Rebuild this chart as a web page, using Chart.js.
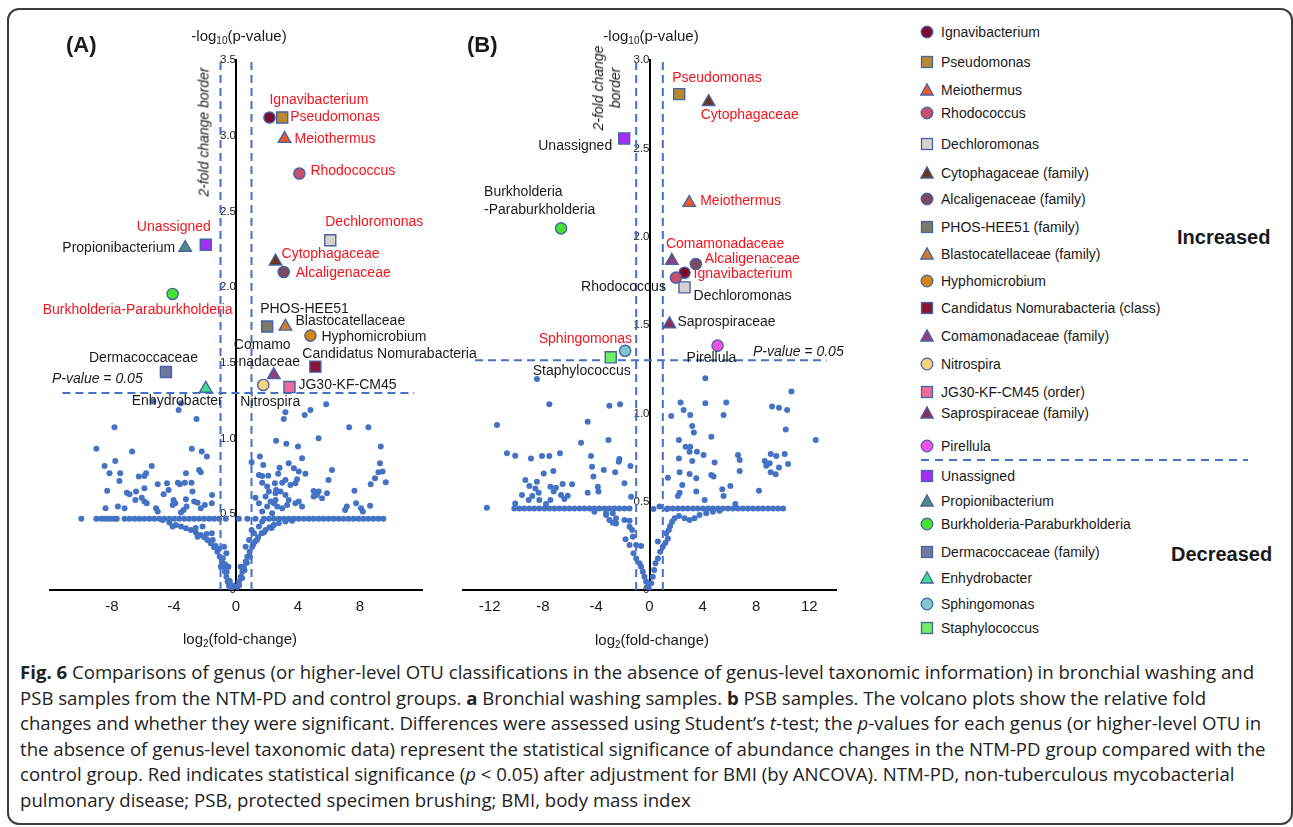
<!DOCTYPE html>
<html>
<head>
<meta charset="utf-8">
<script src="https://cdn.jsdelivr.net/npm/chart.js@4.4.1/dist/chart.umd.min.js"></script>
<style>
  body { margin: 0; width: 1293px; height: 827px; background: #fff; position: relative; overflow: hidden;
         font-family: "Liberation Sans", Arial, sans-serif; color: #1a1a1a; }
  .frame { position: absolute; left: 7px; top: 8px; width: 1282px; height: 813px; border: 2px solid #3c3c3c; border-radius: 12px; }
  canvas { position: absolute; }
  #volcanoA { left: 0; top: 40px; }
  #volcanoB { left: 440px; top: 40px; }
  .t { position: absolute; white-space: nowrap; z-index: 2; }
  .mid { transform: translate(-50%, -50%); }
  .vmid { transform: translateY(-50%); }
  .panel { font-weight: bold; font-size: 22px; }
  .ttl { font-size: 15px; }
  .ttl sub { font-size: 10px; vertical-align: -3px; line-height: 0; }
  .it { font-style: italic; font-size: 14px; }
  .rot { transform: translate(-50%, -50%) rotate(-90deg); text-align: center; line-height: 17px; }
  .leg { position: absolute; left: 919px; height: 16px; font-size: 14px; white-space: nowrap; transform: translateY(-50%); display: flex; align-items: center; }
  .leg svg { width: 16px; height: 16px; margin-right: 6px; }
  .grp { position: absolute; font-weight: bold; font-size: 20px; transform: translateY(-50%); }
  .caption { position: absolute; left: 20px; top: 659px; font-family: "Open Sans", "Noto Sans", sans-serif; font-size: 18.6px;
             line-height: 25.6px; color: #222; white-space: nowrap; }
</style>
</head>
<body>
<div class="frame"></div>
<canvas id="volcanoA" width="480" height="610"></canvas>
<canvas id="volcanoB" width="460" height="610"></canvas>

<div class="t panel vmid" style="left:66px;top:45px">(A)</div>
<div class="t panel vmid" style="left:467px;top:45px">(B)</div>
<div class="t ttl mid" style="left:239px;top:35px">-log<sub>10</sub>(p-value)</div>
<div class="t ttl mid" style="left:651px;top:35px">-log<sub>10</sub>(p-value)</div>
<div class="t ttl mid" style="left:240px;top:638px">log<sub>2</sub>(fold-change)</div>
<div class="t ttl mid" style="left:652px;top:639px">log<sub>2</sub>(fold-change)</div>
<div class="t it rot" style="left:204px;top:132px">2-fold change border</div>
<div class="t it rot" style="left:607px;top:88px">2-fold change<br>border</div>
<div class="t it vmid" style="left:52px;top:378px">P-value = 0.05</div>
<div class="t it vmid" style="left:753px;top:351px">P-value = 0.05</div>

<div id="legend"></div>
<div class="grp" style="left:1177px;top:237px">Increased</div>
<div class="grp" style="left:1171px;top:554px">Decreased</div>

<div class="caption">
<b>Fig. 6</b> Comparisons of genus (or higher-level OTU classifications in the absence of genus-level taxonomic information) in bronchial washing and<br>
PSB samples from the NTM-PD and control groups. <b>a</b> Bronchial washing samples. <b>b</b> PSB samples. The volcano plots show the relative fold<br>
changes and whether they were significant. Differences were assessed using Student’s <i>t</i>-test; the <i>p</i>-values for each genus (or higher-level OTU in<br>
the absence of genus-level taxonomic data) represent the statistical significance of abundance changes in the NTM-PD group compared with the<br>
control group. Red indicates statistical significance (<i>p</i> &lt; 0.05) after adjustment for BMI (by ANCOVA). NTM-PD, non-tuberculous mycobacterial<br>
pulmonary disease; PSB, protected specimen brushing; BMI, body mass index
</div>

<script>
(function () {
    'use strict';

    // ---- data: log2(fold-change), -log10(p) ----
    var foldBorder = 1;                 // log2(2)
    var pLine = -Math.log10(0.05);

    var speciesA = ['Ignavibacterium', 'Pseudomonas', 'Meiothermus', 'Rhodococcus', 'Dechloromonas',
        'Cytophagaceae', 'Alcaligenaceae', 'PHOS-HEE51', 'Blastocatellaceae', 'Hyphomicrobium',
        'Candidatus Nomurabacteria', 'Comamonadaceae', 'Nitrospira', 'JG30-KF-CM45',
        'Unassigned', 'Propionibacterium', 'Burkholderia-Paraburkholderia', 'Dermacoccaceae', 'Enhydrobacter'];
    var fcA = [2.16, 2.98, 3.13, 4.09, 6.08, 2.55, 3.08, 2.01, 3.19, 4.80, 5.12, 2.44, 1.76, 3.45, -1.95, -3.28, -4.09, -4.52, -1.95];
    var logpA = [3.12, 3.12, 2.98, 2.75, 2.31, 2.17, 2.10, 1.74, 1.74, 1.68, 1.475, 1.42, 1.354, 1.34, 2.28, 2.26, 1.955, 1.44, 1.33];

    var speciesB = ['Pseudomonas', 'Cytophagaceae', 'Unassigned', 'Meiothermus', 'Burkholderia-Paraburkholderia',
        'Comamonadaceae', 'Alcaligenaceae', 'Rhodococcus', 'Ignavibacterium', 'Dechloromonas',
        'Saprospiraceae', 'Pirellula', 'Sphingomonas', 'Staphylococcus'];
    var fcB = [2.23, 4.44, -1.90, 2.98, -6.64, 1.68, 3.48, 1.98, 2.63, 2.63, 1.50, 5.11, -1.83, -2.91];
    var logpB = [2.807, 2.763, 2.556, 2.192, 2.047, 1.864, 1.845, 1.768, 1.796, 1.713, 1.505, 1.383, 1.354, 1.317];

    // other OTUs, panel A
    var scatterA = [[-3.55, 1.233], [-5.33, 1.244], [-3.70, 1.189], [-2.55, 1.130], [-7.84, 1.075], [-9.01, 0.932],
        [-7.79, 0.852], [-6.70, 0.914], [-2.85, 0.932], [-2.21, 0.914], [-1.88, 0.881], [-8.48, 0.819], [-8.16, 0.771],
        [-7.47, 0.771], [-7.52, 0.720], [-8.31, 0.656], [-6.27, 0.749], [-5.80, 0.771], [-5.91, 0.753], [-5.44, 0.819],
        [-6.45, 0.650], [-5.91, 0.672], [-7.04, 0.643], [-6.87, 0.632], [-6.49, 0.595], [-6.08, 0.610], [-5.91, 0.584],
        [-5.76, 0.573], [-5.05, 0.698], [-4.45, 0.705], [-4.35, 0.661], [-4.67, 0.632], [-3.75, 0.709], [-3.62, 0.698],
        [-3.30, 0.709], [-2.87, 0.709], [-3.23, 0.771], [-2.38, 0.793], [-2.27, 0.778], [-2.81, 0.650], [-1.54, 0.628],
        [-3.92, 0.573], [-4.03, 0.595], [-4.09, 0.562], [-3.38, 0.529], [-3.19, 0.551], [-2.70, 0.584], [-2.48, 0.577],
        [-2.27, 0.540], [-2.01, 0.562], [-1.56, 0.573], [-8.42, 0.540], [-7.62, 0.551], [-7.19, 0.540], [-5.16, 0.540],
        [-5.05, 0.518], [-3.23, 0.599], [-3.55, 0.511],
        [5.82, 1.227], [4.80, 1.189], [4.43, 1.156], [3.19, 1.174], [3.08, 1.130], [7.30, 1.075], [8.54, 1.075],
        [5.33, 1.002], [2.59, 0.985], [3.25, 0.965], [4.00, 0.947], [4.26, 0.870], [9.34, 0.947], [1.01, 0.844],
        [1.54, 0.881], [1.76, 0.826], [1.48, 0.760], [1.69, 0.753], [2.08, 0.755], [2.72, 0.767], [2.81, 0.808],
        [3.40, 0.837], [3.73, 0.804], [4.05, 0.782], [4.48, 0.767], [3.19, 0.727], [2.98, 0.709], [3.51, 0.694],
        [3.83, 0.705], [3.94, 0.731], [2.51, 0.705], [2.59, 0.661], [2.55, 0.639], [2.87, 0.650], [3.19, 0.628],
        [2.01, 0.683], [2.12, 0.650], [1.26, 0.610], [1.91, 0.617], [2.23, 0.584], [2.44, 0.573], [2.66, 0.551],
        [2.98, 0.540], [3.40, 0.595], [3.83, 0.573], [4.05, 0.584], [4.26, 0.551], [3.30, 0.562], [5.01, 0.654],
        [5.33, 0.650], [5.55, 0.606], [5.87, 0.639], [5.01, 0.617], [5.22, 0.628], [6.19, 0.793], [5.97, 0.727],
        [7.64, 0.656], [7.15, 0.551], [7.75, 0.573], [8.07, 0.540], [8.18, 0.518], [8.65, 0.557], [8.69, 0.698],
        [8.97, 0.738], [9.19, 0.778], [9.46, 0.782], [9.29, 0.837], [9.66, 0.711], [7.04, 0.529], [1.69, 0.709],
        [1.48, 0.573], [1.69, 0.518], [2.33, 0.507], [2.01, 0.551], [2.55, 0.595]];
    var plateauLevelA = 0.47;
    var plateauA = [-9.98, -9.01, -8.69, -8.48, -8.27, -8.05, -7.84, -7.69, -7.19, -6.87, -6.55, -6.23, -5.91, -5.59,
        -5.27, -4.95, -4.63, -4.30, -3.98, -3.66, -3.34, -3.02, -2.70, -2.38, -2.06, -1.73, -1.41, -1.09, -0.66,
        0.19, 0.73, 1.26, 1.80, 2.12, 2.44, 2.76, 3.08, 3.40, 3.73, 4.05, 4.37, 4.69, 5.01, 5.33, 5.65, 5.97, 6.30,
        6.62, 6.94, 7.26, 7.58, 7.90, 8.22, 8.54, 8.86, 9.19, 9.51];
    var funnelA = [[-4.73, 0.463], [-4.30, 0.445], [-3.88, 0.430], [-3.55, 0.419], [-3.23, 0.407], [-2.91, 0.396],
        [-2.59, 0.379], [-2.27, 0.363], [-2.06, 0.348], [-1.84, 0.330], [-1.63, 0.308], [-1.41, 0.282], [-1.20, 0.253],
        [-1.05, 0.220], [-0.92, 0.187], [-0.81, 0.154], [-0.71, 0.121], [-0.62, 0.088], [-0.54, 0.055], [-0.45, 0.026],
        [-0.30, 0.009], [-2.16, 0.419], [-2.48, 0.352], [-1.56, 0.374], [-1.31, 0.291], [-0.77, 0.286], [-0.62, 0.242],
        [-0.49, 0.154], [-4.09, 0.419], [-0.98, 0.154], [-0.20, 0.03], [-0.40, 0.06], [-0.60, 0.12], [-0.70, 0.17],
        [-0.85, 0.21], [-1.10, 0.27], [-1.50, 0.33], [-1.90, 0.37], [-2.60, 0.41],
        [0.09, 0.022], [0.19, 0.055], [0.30, 0.088], [0.41, 0.121], [0.51, 0.154], [0.62, 0.187], [0.73, 0.220],
        [0.88, 0.253], [1.05, 0.286], [1.22, 0.319], [1.43, 0.348], [1.65, 0.374], [1.91, 0.396], [2.16, 0.414],
        [2.44, 0.430], [2.76, 0.441], [3.19, 0.452], [3.62, 0.458], [0.30, 0.154], [0.84, 0.330], [1.16, 0.374],
        [1.48, 0.419], [1.69, 0.452], [0.62, 0.286], [1.01, 0.396], [0.20, 0.03], [0.40, 0.08], [0.55, 0.13],
        [0.70, 0.18], [0.90, 0.22], [1.10, 0.30], [1.35, 0.33], [1.80, 0.38], [2.30, 0.41]];

    // other OTUs, panel B
    var scatterB = [[-8.45, 1.194], [-7.52, 1.051], [-11.45, 0.934], [-3.01, 1.043], [-2.21, 1.051], [-4.64, 0.953],
        [-3.08, 0.849], [-5.14, 0.834], [-10.70, 0.774], [-10.08, 0.760], [-8.90, 0.745], [-8.07, 0.758], [-7.52, 0.758],
        [-6.72, 0.774], [-4.39, 0.758], [-2.26, 0.742], [-2.31, 0.726], [-4.31, 0.698], [-3.43, 0.679], [-2.58, 0.666],
        [-4.21, 0.642], [-1.43, 0.702], [-7.94, 0.660], [-7.22, 0.674], [-9.32, 0.623], [-8.45, 0.613], [-9.02, 0.589],
        [-8.57, 0.575], [-8.32, 0.551], [-9.57, 0.538], [-8.80, 0.532], [-7.44, 0.585], [-7.02, 0.579], [-7.19, 0.557],
        [-6.52, 0.600], [-5.81, 0.598], [-6.64, 0.538], [-6.14, 0.534], [-6.39, 0.515], [-7.44, 0.509], [-7.77, 0.487],
        [-9.07, 0.509], [-8.27, 0.509], [-4.64, 0.551], [-3.88, 0.585], [-3.83, 0.557], [-1.88, 0.604], [-1.38, 0.528],
        [-12.21, 0.466],
        [4.19, 1.198], [10.65, 1.123], [2.33, 1.062], [4.19, 1.057], [5.76, 1.062], [9.20, 1.038], [9.72, 1.032],
        [10.33, 1.019], [1.63, 0.985], [2.56, 1.019], [3.06, 0.991], [5.56, 0.991], [3.21, 0.928], [3.33, 0.892],
        [10.23, 0.909], [12.48, 0.849], [4.64, 0.868], [2.21, 0.849], [2.71, 0.811], [3.06, 0.811], [3.01, 0.783],
        [3.56, 0.783], [4.06, 0.764], [2.21, 0.745], [3.21, 0.730], [4.89, 0.721], [6.64, 0.764], [6.77, 0.736],
        [6.77, 0.674], [9.10, 0.770], [9.52, 0.758], [10.15, 0.770], [8.65, 0.730], [8.77, 0.704], [9.02, 0.717],
        [10.40, 0.713], [9.72, 0.694], [9.10, 0.666], [9.47, 0.655], [1.38, 0.636], [2.26, 0.666], [3.01, 0.657],
        [2.46, 0.594], [4.64, 0.651], [4.81, 0.642], [3.51, 0.632], [6.07, 0.589], [5.46, 0.570], [8.22, 0.562],
        [2.26, 0.551], [2.13, 0.532], [3.51, 0.557], [4.14, 0.509], [5.56, 0.532], [6.44, 0.487], [0.75, 0.472],
        [0.30, 0.458], [1.30, 0.458]];
    var plateauLevelB = 0.462;
    var plateauB = [-10.15, -9.77, -9.40, -9.02, -8.65, -8.27, -7.89, -7.52, -7.14, -6.77, -6.39, -6.02, -5.64, -5.26,
        -4.89, -4.51, -4.14, -3.76, -3.38, -3.01, -2.63, -2.26, -1.88, -1.50,
        1.38, 1.75, 2.13, 2.51, 2.88, 3.26, 3.63, 4.01, 4.39, 4.76, 5.14, 5.51, 5.89, 6.27, 6.64, 7.02, 7.39, 7.77,
        8.15, 8.52, 8.90, 9.27, 9.65, 10.03];
    var funnelB = [[-3.26, 0.425], [-3.01, 0.396], [-2.76, 0.381], [-2.51, 0.377], [-2.51, 0.406], [-1.88, 0.396],
        [-1.50, 0.392], [-1.50, 0.358], [-1.30, 0.340], [-1.25, 0.302], [-1.80, 0.287], [-1.50, 0.255], [-1.00, 0.255],
        [-0.63, 0.249], [-1.20, 0.208], [-1.00, 0.179], [-0.75, 0.151], [-0.63, 0.132], [-0.50, 0.104], [-0.38, 0.075],
        [-0.25, 0.047], [-0.13, 0.019], [0, 0], [-4.14, 0.443], [-3.26, 0.434], [-2.76, 0.434], [-10.08, 0.49],
        [0.13, 0.038], [0.25, 0.075], [0.35, 0.113], [0.45, 0.151], [0.63, 0.179], [0.80, 0.217], [0.63, 0.274],
        [1.00, 0.245], [1.20, 0.268], [1.38, 0.292], [1.25, 0.321], [1.45, 0.340], [1.55, 0.362], [1.70, 0.387],
        [1.88, 0.406], [2.21, 0.419], [2.63, 0.406], [3.01, 0.396], [3.38, 0.406], [3.76, 0.425], [4.26, 0.434],
        [4.76, 0.443], [5.26, 0.449]];

    var xTicksA = [-8, -4, 0, 4, 8];
    var xTicksB = [-12, -8, -4, 0, 4, 8, 12];
    var pLineSpanA = [-11.2, 11.5];
    var pLineSpanB = [-13.1, 13.3];

    var legendUp = ['Ignavibacterium', 'Pseudomonas', 'Meiothermus', 'Rhodococcus', 'Dechloromonas',
        'Cytophagaceae (family)', 'Alcaligenaceae (family)', 'PHOS-HEE51 (family)', 'Blastocatellaceae (family)',
        'Hyphomicrobium', 'Candidatus Nomurabacteria (class)', 'Comamonadaceae (family)', 'Nitrospira',
        'JG30-KF-CM45 (order)', 'Saprospiraceae (family)', 'Pirellula'];
    var legendDown = ['Unassigned', 'Propionibacterium', 'Burkholderia-Paraburkholderia', 'Dermacoccaceae (family)',
        'Enhydrobacter', 'Sphingomonas', 'Staphylococcus'];

    // ---- styles ----
    var BLUE = '#4472c4';
    var EDGE = '#4663a6';
    var RED = '#f5141e';
    var markers = {
        'Ignavibacterium': ['circle', '#7b0c2c'],
        'Pseudomonas': ['rect', '#b8892d'],
        'Meiothermus': ['triangle', '#f05a28'],
        'Rhodococcus': ['circle', '#c94f6d'],
        'Dechloromonas': ['rect', '#d6d1cb'],
        'Cytophagaceae': ['triangle', '#6b3617'],
        'Alcaligenaceae': ['circle', '#7a4a5e'],
        'PHOS-HEE51': ['rect', '#7a7a66'],
        'Blastocatellaceae': ['triangle', '#d07a2a'],
        'Hyphomicrobium': ['circle', '#d4860f'],
        'Candidatus Nomurabacteria': ['rect', '#8b1333'],
        'Comamonadaceae': ['triangle', '#8e3f7c'],
        'Nitrospira': ['circle', '#f7d47a'],
        'JG30-KF-CM45': ['rect', '#ee6a98'],
        'Saprospiraceae': ['triangle', '#8b2f5a'],
        'Pirellula': ['circle', '#f550e6'],
        'Unassigned': ['rect', '#a52ef5'],
        'Propionibacterium': ['triangle', '#4e8c7f'],
        'Burkholderia-Paraburkholderia': ['circle', '#46e22e'],
        'Dermacoccaceae': ['rect', '#6e7a9c'],
        'Enhydrobacter': ['triangle', '#3fe08a'],
        'Sphingomonas': ['circle', '#7ec7cb'],
        'Staphylococcus': ['rect', '#70f060']
    };
    var markerRadius = { circle: 5.6, rect: 7.8, triangle: 7.2 };

    // label text, dx, dy, align, significant (red)
    var labelsA = {
        'Ignavibacterium': ['Ignavibacterium', 0, -17, 'left', true],
        'Pseudomonas': ['Pseudomonas', 8, 0, 'left', true],
        'Meiothermus': ['Meiothermus', 10, 0, 'left', true],
        'Rhodococcus': ['Rhodococcus', 11, -2, 'left', true],
        'Dechloromonas': ['Dechloromonas', -5, -18, 'left', true],
        'Cytophagaceae': ['Cytophagaceae', 6, -7, 'left', true],
        'Alcaligenaceae': ['Alcaligenaceae', 12, 1, 'left', true],
        'PHOS-HEE51': ['PHOS-HEE51', -7, -17, 'left', false],
        'Blastocatellaceae': ['Blastocatellaceae', 10, -5, 'left', false],
        'Hyphomicrobium': ['Hyphomicrobium', 11, 2, 'left', false],
        'Candidatus Nomurabacteria': ['Candidatus Nomurabacteria', -13, -13, 'left', false],
        'Comamonadaceae': ['Comamo\n-nadaceae', -40, -30, 'left', false],
        'Nitrospira': ['Nitrospira', -23, 17, 'left', false],
        'JG30-KF-CM45': ['JG30-KF-CM45', 9, -2, 'left', false],
        'Unassigned': ['Unassigned', 5, -18, 'right', true],
        'Propionibacterium': ['Propionibacterium', -10, 0, 'right', false],
        'Burkholderia-Paraburkholderia': ['Burkholderia-Paraburkholderia', 60, 16, 'right', true],
        'Dermacoccaceae': ['Dermacoccaceae', 32, -14, 'right', false],
        'Enhydrobacter': ['Enhydrobacter', 17, 13, 'right', false]
    };
    var labelsB = {
        'Pseudomonas': ['Pseudomonas', -7, -16, 'left', true],
        'Cytophagaceae': ['Cytophagaceae', -8, 13, 'left', true],
        'Unassigned': ['Unassigned', -12, 8, 'right', false],
        'Meiothermus': ['Meiothermus', 11, -2, 'left', true],
        'Burkholderia-Paraburkholderia': ['Burkholderia\n-Paraburkholderia', -77, -36, 'left', false],
        'Comamonadaceae': ['Comamonadaceae', -6, -17, 'left', true],
        'Alcaligenaceae': ['Alcaligenaceae', 9, -5, 'left', true],
        'Ignavibacterium': ['Ignavibacterium', 9, 1, 'left', true],
        'Rhodococcus': ['Rhodococcus', -10, 9, 'right', false],
        'Dechloromonas': ['Dechloromonas', 9, 9, 'left', false],
        'Saprospiraceae': ['Saprospiraceae', 8, -2, 'left', false],
        'Pirellula': ['Pirellula', -31, 12, 'left', false],
        'Sphingomonas': ['Sphingomonas', 7, -12, 'right', true],
        'Staphylococcus': ['Staphylococcus', 20, 14, 'right', false]
    };

    Chart.defaults.font.family = '"Liberation Sans", Arial, sans-serif';
    Chart.defaults.color = '#1a1a1a';

    var pointLabels = {
        id: 'pointLabels',
        afterDatasetsDraw: function (chart, args, opts) {
            var ctx = chart.ctx;
            ctx.save();
            ctx.font = '14px "Liberation Sans", Arial, sans-serif';
            ctx.textBaseline = 'middle';
            chart.data.datasets.forEach(function (ds, i) {
                var cfg = ds.labelKey && opts.labels[ds.labelKey];
                if (!cfg) return;
                var el = chart.getDatasetMeta(i).data[0];
                ctx.fillStyle = cfg[4] ? RED : '#1a1a1a';
                ctx.textAlign = cfg[3];
                cfg[0].split('\n').forEach(function (line, k) {
                    ctx.fillText(line, el.x + cfg[1], el.y + cfg[2] + k * 17.5);
                });
            });
            ctx.restore();
        }
    };

    function toPoints(pairs) {
        return pairs.map(function (p) { return { x: p[0], y: p[1] }; });
    }

    function buildChart(el, o) {
        var datasets = [];
        o.species.forEach(function (name, i) {
            var m = markers[name];
            datasets.push({
                labelKey: name,
                data: [{ x: o.fc[i], y: o.logp[i] }],
                pointStyle: m[0],
                pointRadius: markerRadius[m[0]],
                backgroundColor: m[1],
                borderColor: EDGE,
                borderWidth: 1.4
            });
        });
        datasets.push({
            data: toPoints(o.scatter)
                .concat(o.plateau.map(function (x) { return { x: x, y: o.level }; }))
                .concat(toPoints(o.funnel)),
            pointRadius: 3,
            backgroundColor: BLUE,
            borderWidth: 0
        });
        var dash = { showLine: true, borderColor: BLUE, borderWidth: 2, borderDash: [8, 5], pointRadius: 0, fill: false };
        datasets.push(Object.assign({ data: [{ x: -foldBorder, y: 0 }, { x: -foldBorder, y: o.yMax }] }, dash));
        datasets.push(Object.assign({ data: [{ x: foldBorder, y: 0 }, { x: foldBorder, y: o.yMax }] }, dash));
        datasets.push(Object.assign({ data: [{ x: o.pSpan[0], y: pLine }, { x: o.pSpan[1], y: pLine }] }, dash));

        return new Chart(el, {
            type: 'scatter',
            data: { datasets: datasets },
            options: {
                responsive: false,
                animation: false,
                events: [],
                layout: { padding: o.padding },
                plugins: { legend: { display: false }, tooltip: { enabled: false }, pointLabels: { labels: o.labels } },
                scales: {
                    x: {
                        type: 'linear', position: 'bottom', min: o.xMin, max: o.xMax,
                        afterBuildTicks: function (s) { s.ticks = o.xTicks.map(function (v) { return { value: v }; }); },
                        afterFit: function (s) { s.height = 30; },
                        grid: { display: false, drawTicks: false },
                        border: { display: true, color: '#000', width: 2 },
                        ticks: { padding: 8, font: { size: 15 }, color: '#1a1a1a', maxRotation: 0, autoSkip: false }
                    },
                    y: {
                        type: 'linear', position: { x: 0 }, min: 0, max: o.yMax,
                        afterFit: function (s) { s.width = 0; },
                        grid: { display: false, drawTicks: false },
                        border: { display: true, color: '#000', width: 2 },
                        ticks: { stepSize: 0.5, padding: 13, font: { size: 11.5 }, color: '#1a1a1a' }
                    }
                }
            },
            plugins: [pointLabels]
        });
    }

    buildChart(document.getElementById('volcanoA'), {
        species: speciesA, fc: fcA, logp: logpA, labels: labelsA,
        scatter: scatterA, plateau: plateauA, level: plateauLevelA, funnel: funnelA,
        xMin: -12, xMax: 12, yMax: 3.5, xTicks: xTicksA, pSpan: pLineSpanA,
        padding: { left: 50, right: 58, top: 20, bottom: 30 }
    });
    buildChart(document.getElementById('volcanoB'), {
        species: speciesB, fc: fcB, logp: logpB, labels: labelsB,
        scatter: scatterB, plateau: plateauB, level: plateauLevelB, funnel: funnelB,
        xMin: -14, xMax: 14, yMax: 3, xTicks: xTicksB, pSpan: pLineSpanB,
        padding: { left: 23, right: 64, top: 20, bottom: 30 }
    });

    // ---- legend ----
    var legendUpY = [31.7, 62.3, 90, 113.3, 144, 173.3, 199, 226.7, 254.3, 281, 308.3, 335.7, 364, 391.7, 412.7, 445.7];
    var legendDownY = [475.7, 500.7, 524.3, 552.3, 578.3, 604, 628.3];

    function markerSvg(name) {
        var m = markers[name];
        var shape;
        if (m[0] === 'circle') shape = '<circle cx="8" cy="8" r="5.8"/>';
        else if (m[0] === 'rect') shape = '<rect x="2.5" y="2.5" width="11" height="11"/>';
        else shape = '<polygon points="8,1.8 14.2,13 1.8,13"/>';
        return '<svg viewBox="0 0 16 16"><g fill="' + m[1] + '" stroke="' + EDGE + '" stroke-width="1.3">' + shape + '</g></svg>';
    }

    var legendEl = document.getElementById('legend');
    var html = '';
    function addRows(list, ys) {
        list.forEach(function (text, i) {
            var key = text.split(' (')[0];
            html += '<div class="leg" style="top:' + ys[i] + 'px">' + markerSvg(key) + '<span>' + text + '</span></div>';
        });
    }
    addRows(legendUp, legendUpY);
    addRows(legendDown, legendDownY);
    html += '<svg style="position:absolute;left:920px;top:458px" width="330" height="4">' +
        '<line x1="1" y1="2" x2="328" y2="2" stroke="' + BLUE + '" stroke-width="2" stroke-dasharray="8,6"/></svg>';
    legendEl.innerHTML = html;
})();
</script>
</body>
</html>
